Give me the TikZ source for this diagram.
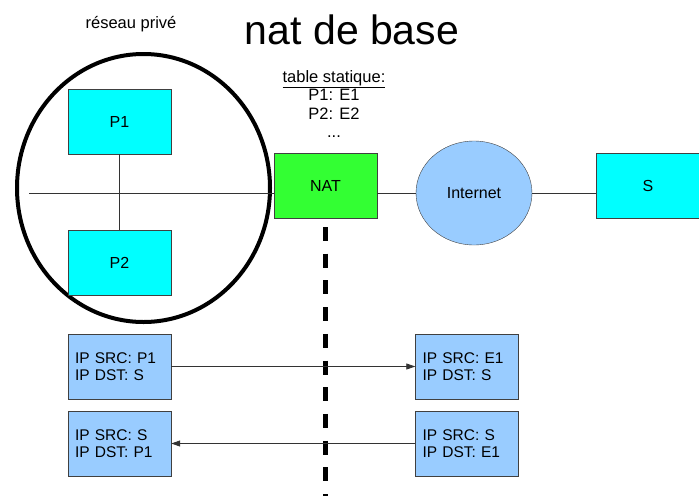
\documentclass[tikz,border=0pt]{standalone}
\usepackage{fontspec}
\setmainfont{Liberation Sans}
\usetikzlibrary{arrows.meta}
\usetikzlibrary{positioning}
\usetikzlibrary{shapes.geometric}
\definecolor{hostcyan}{HTML}{00FFFF}
\definecolor{natgreen}{HTML}{33FF33}
\definecolor{netblue}{HTML}{99CCFF}
\definecolor{edgegray}{HTML}{404040}
\newcommand{\lbl}{\fontsize{16}{18}\selectfont}
\newcommand{\pkt}{\fontsize{15.5}{17}\selectfont}
\newcommand{\note}{\fontsize{16.5}{18.5}\selectfont}
\tikzset{
  hostbox/.style={draw=edgegray, fill=hostcyan, minimum width=103pt, minimum height=65pt, inner sep=0pt, font=\lbl},
  pktbox/.style={draw=edgegray, fill=netblue, text width=89pt, inner xsep=7pt, minimum height=65pt, align=left, font=\pkt},
  wire/.style={draw=black!80, line width=0.8pt},
}
\begin{document}
\begin{tikzpicture}[x=1pt, y=-1pt]
	\useasboundingbox (0,0) rectangle (699,496);
	% titles
	\node (title) at (352,30) {\fontsize{41}{45}\selectfont nat de base};
	\node (lanname) at (131,24) {\note réseau privé};
	% private network
	\node[ellipse, draw, line width=4pt, minimum width=253pt, minimum height=268pt, inner sep=0pt] (lan) at (143.5,188) {};
	\node[hostbox] (p1) at (119.5,121.5) {P1};
	\node[hostbox] (p2) at (119.5,263) {P2};
	\coordinate (bus) at (29,193);
	% nat and outside
	\node[hostbox, fill=natgreen] (nat) at (325.5,186) {NAT};
	\node[ellipse, draw=edgegray, fill=netblue, minimum width=116pt, minimum height=104pt, inner sep=0pt, font=\lbl] (inet) at (474,193) {Internet};
	\node[hostbox] (s) at (648,186) {S};
	% static table
	\node[font=\note, align=center, inner sep=0pt] (table) at (334,104) {\underline{table statique:}\\P1: E1\\P2: E2\\...};
	% links
	\draw[wire] (p1.south) -- (p2.north);
	\draw[wire] (bus) -- (bus -| nat.west);
	\draw[wire] (nat.east |- inet) -- (inet);
	\draw[wire] (inet) -- (inet -| s.west);
	% boundary
	\coordinate (cut) at (nat.south |- 0,227);
	\coordinate (cutend) at (nat.south |- 0,496);
	\draw[line width=5pt, dash pattern=on 14pt off 12.7pt] (cut) -- (cutend);
	% packets
	\node[pktbox] (pk1) at (119.5,366.5) {IP SRC: P1\\IP DST: S};
	\node[pktbox] (pk2) at (467,366.5) {IP SRC: E1\\IP DST: S};
	\node[pktbox] (pk3) at (119.5,443.5) {IP SRC: S\\IP DST: P1};
	\node[pktbox] (pk4) at (467,443.5) {IP SRC: S\\IP DST: E1};
	\draw[wire, -{Triangle[length=9pt,width=6pt]}] (pk1.east) -- (pk2.west);
	\draw[wire, -{Triangle[length=9pt,width=6pt]}] (pk4.west) -- (pk3.east);
\end{tikzpicture}
\end{document}
